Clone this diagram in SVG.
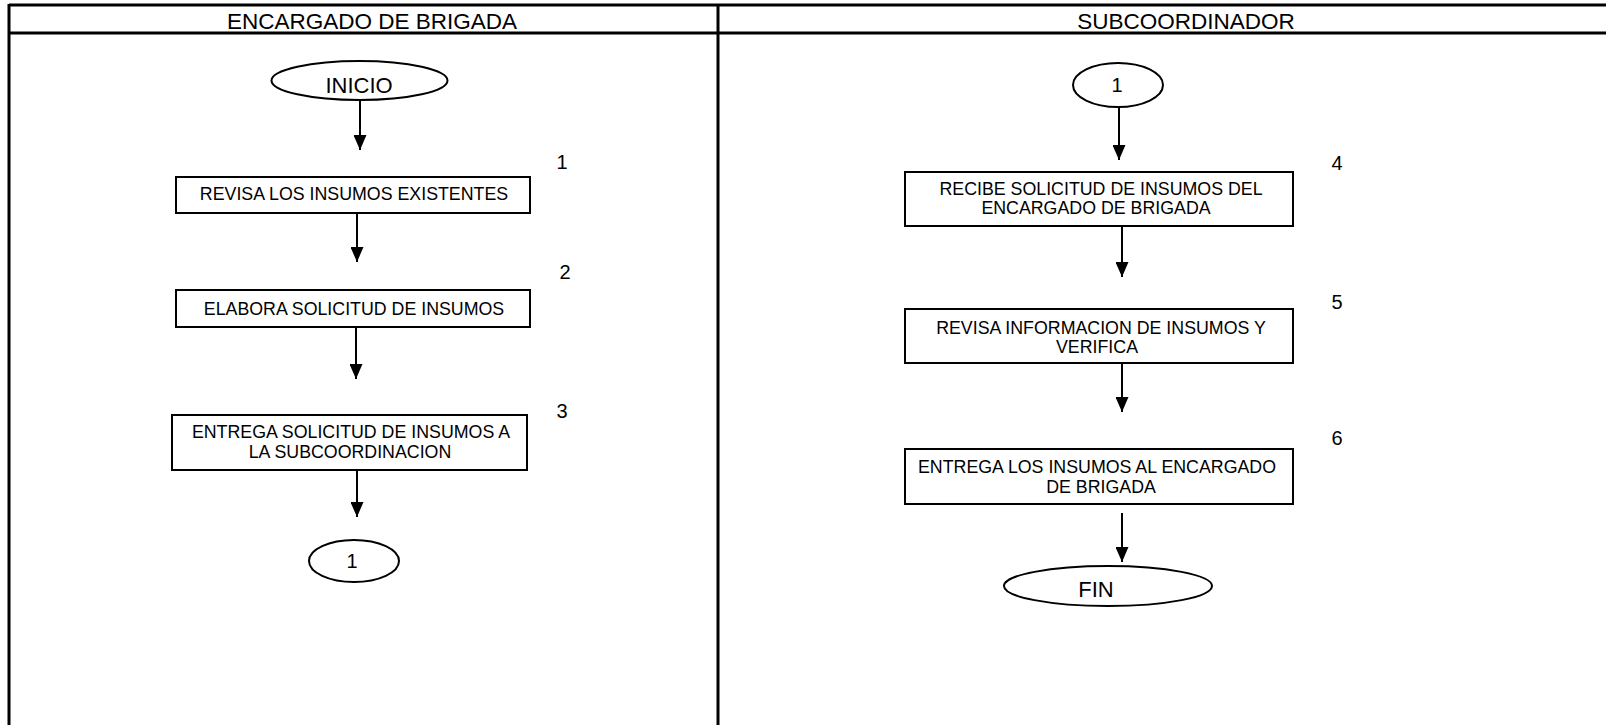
<svg xmlns="http://www.w3.org/2000/svg" width="1606" height="725" viewBox="0 0 1606 725">
  <style>
    text { font-family: "Liberation Sans", Arial, sans-serif; fill: #000; }
    .lane { stroke: #000; stroke-width: 3; fill: none; }
    .head { font-size: 22.5px; text-anchor: middle; }
    .box { fill: #fff; stroke: #000; stroke-width: 2; }
    .term { fill: #fff; stroke: #000; stroke-width: 2; }
    .lbl { font-size: 17.8px; text-anchor: middle; }
    .big { font-size: 22px; text-anchor: middle; }
    .num { font-size: 20px; text-anchor: middle; }
    .flow { stroke: #000; stroke-width: 2; fill: none; marker-end: url(#arrow); }
  </style>
  <defs>
    <marker id="arrow" markerUnits="userSpaceOnUse" viewBox="0 0 15 13" refX="15" refY="6.5" markerWidth="15" markerHeight="13" orient="auto">
      <path d="M0,0 L15,6.5 L0,13 Z" fill="#000"/>
    </marker>
  </defs>
  <rect width="1606" height="725" fill="#fff"/>

  <!-- swimlane frame -->
  <g id="lanes">
    <line class="lane" x1="9" y1="5" x2="1606" y2="5"/>
    <line class="lane" x1="9" y1="33" x2="1606" y2="33"/>
    <line class="lane" x1="9" y1="4" x2="9" y2="725"/>
    <line class="lane" x1="718" y1="4" x2="718" y2="725"/>
    <text class="head" x="372" y="28.5">ENCARGADO DE BRIGADA</text>
    <text class="head" x="1186" y="28.5">SUBCOORDINADOR</text>
  </g>

  <!-- connectors -->
  <g id="connectors">
    <line class="flow" x1="360" y1="100" x2="360" y2="150"/>
    <line class="flow" x1="357" y1="213" x2="357" y2="262"/>
    <line class="flow" x1="356" y1="327" x2="356" y2="379"/>
    <line class="flow" x1="357" y1="470" x2="357" y2="517"/>
    <line class="flow" x1="1119" y1="107" x2="1119" y2="160"/>
    <line class="flow" x1="1122" y1="227" x2="1122" y2="277"/>
    <line class="flow" x1="1122" y1="363" x2="1122" y2="412"/>
    <line class="flow" x1="1122" y1="513" x2="1122" y2="562"/>
  </g>

  <!-- left lane -->
  <g id="inicio">
    <ellipse class="term" cx="359.5" cy="80.5" rx="88" ry="19.5"/>
    <text class="big" x="359" y="93">INICIO</text>
  </g>
  <g id="step1">
    <rect class="box" x="176" y="177" width="354" height="36"/>
    <text class="lbl" x="354" y="200">REVISA LOS INSUMOS EXISTENTES</text>
    <text class="num" x="562" y="169">1</text>
  </g>
  <g id="step2">
    <rect class="box" x="176" y="290" width="354" height="37"/>
    <text class="lbl" x="354" y="315">ELABORA SOLICITUD DE INSUMOS</text>
    <text class="num" x="565" y="279">2</text>
  </g>
  <g id="step3">
    <rect class="box" x="172" y="415" width="355" height="55"/>
    <text class="lbl" x="351" y="438">ENTREGA SOLICITUD DE INSUMOS A</text>
    <text class="lbl" x="350" y="458">LA SUBCOORDINACION</text>
    <text class="num" x="562" y="418">3</text>
  </g>
  <g id="conector-out">
    <ellipse class="term" cx="354" cy="561" rx="45" ry="21"/>
    <text class="num" x="352" y="568">1</text>
  </g>

  <!-- right lane -->
  <g id="conector-in">
    <ellipse class="term" cx="1118" cy="85" rx="45" ry="22"/>
    <text class="num" x="1117" y="92">1</text>
  </g>
  <g id="step4">
    <rect class="box" x="905" y="172" width="388" height="54"/>
    <text class="lbl" x="1101" y="195">RECIBE SOLICITUD DE INSUMOS DEL</text>
    <text class="lbl" x="1096" y="214">ENCARGADO DE BRIGADA</text>
    <text class="num" x="1337" y="170">4</text>
  </g>
  <g id="step5">
    <rect class="box" x="905" y="309" width="388" height="54"/>
    <text class="lbl" x="1101" y="334">REVISA INFORMACION DE INSUMOS Y</text>
    <text class="lbl" x="1097" y="353">VERIFICA</text>
    <text class="num" x="1337" y="309">5</text>
  </g>
  <g id="step6">
    <rect class="box" x="905" y="449" width="388" height="55"/>
    <text class="lbl" x="1097" y="473">ENTREGA LOS INSUMOS AL ENCARGADO</text>
    <text class="lbl" x="1101" y="493">DE BRIGADA</text>
    <text class="num" x="1337" y="445">6</text>
  </g>
  <g id="fin">
    <ellipse class="term" cx="1108" cy="586" rx="104" ry="20"/>
    <text class="big" x="1096" y="597">FIN</text>
  </g>
</svg>
